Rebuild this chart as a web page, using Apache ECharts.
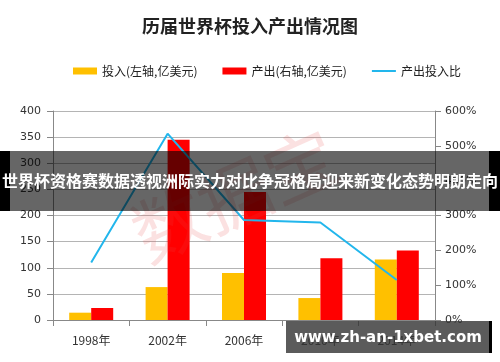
<!DOCTYPE html>
<html><head><meta charset="utf-8">
<script src="https://cdn.jsdelivr.net/npm/echarts@6/dist/echarts.min.js"></script>
<style>html,body{margin:0;padding:0;background:#fff}#c{width:500px;height:362px}</style>
</head><body><div id="c"></div>
<script>
const categories = ['1998年','2002年','2006年','2010年','2014年'];
const inputVals = [14, 63, 90, 42, 116];
const outputVals = [23, 345, 245, 118, 133];
const ratioVals = [165, 535, 287, 280, 115];
const leftTicks = [0, 400, 50];
const rightTicks = [0, 600, 100];

const chart = echarts.init(document.getElementById('c'));
const axisFont = {fontFamily:'DejaVu Sans', fontSize:11, color:'#333'};
chart.setOption({
  animation:false,
  title:{text:'历届世界杯投入产出情况图', left:'center', top:12,
    textStyle:{fontFamily:'Noto Sans CJK SC', fontSize:18, fontWeight:'bold', color:'#222'}},
  legend:{left:68, top:60, itemWidth:24, itemHeight:7, itemGap:25,
    textStyle:{fontFamily:'Noto Sans CJK SC', fontSize:12, color:'#222'},
    data:[{name:'投入(左轴,亿美元)', icon:'rect'},{name:'产出(右轴,亿美元)', icon:'rect'},
      {name:'产出投入比', icon:'path://M0,0L24,0L24,2L0,2Z'}]},
  grid:{left:53, right:65, top:111, bottom:42},
  xAxis:{type:'category', data:categories, boundaryGap:true,
    axisLine:{lineStyle:{color:'#888'}},
    axisTick:{show:true, alignWithLabel:false, length:6, lineStyle:{color:'#888'}},
    axisLabel:Object.assign({margin:14}, axisFont, {fontFamily:'Noto Sans CJK SC', fontSize:12})},
  yAxis:[
    {type:'value', min:leftTicks[0], max:leftTicks[1], interval:leftTicks[2],
      axisLine:{show:true, lineStyle:{color:'#888'}},
      axisTick:{show:true, length:6, lineStyle:{color:'#888'}},
      axisLabel:Object.assign({margin:12}, axisFont),
      splitLine:{lineStyle:{color:'#b4b4b4'}}},
    {type:'value', min:rightTicks[0], max:rightTicks[1], interval:rightTicks[2],
      axisLine:{show:true, lineStyle:{color:'#888'}},
      axisTick:{show:true, length:6, lineStyle:{color:'#888'}},
      axisLabel:Object.assign({margin:10, formatter:'{value}%'}, axisFont),
      splitLine:{show:false}}
  ],
  series:[
    {name:'投入(左轴,亿美元)', type:'bar', data:inputVals, barWidth:22, barGap:'0%',
      itemStyle:{color:'#FFC000'}},
    {name:'产出(右轴,亿美元)', type:'bar', data:outputVals, barWidth:22,
      itemStyle:{color:'#FF0000'}},
    {name:'产出投入比', type:'line', yAxisIndex:1, data:ratioVals, symbol:'none',
      lineStyle:{color:'#22B6EC', width:2}, itemStyle:{color:'#22B6EC'}}
  ],
  graphic:[
    {type:'text', x:235, y:195, rotation:0.42, z:50,
      style:{text:'数据宝', fontFamily:'Noto Sans CJK SC', fontSize:72, fontWeight:'normal',
        fill:'rgba(230,70,70,0.16)', align:'center', verticalAlign:'middle'}},
    {type:'rect', z:100, shape:{x:0, y:151, width:500, height:60}, style:{fill:'rgba(0,0,0,0.6)'}},
    {type:'rect', z:101, shape:{x:0, y:151, width:10, height:60}, style:{fill:'#000'}},
    {type:'rect', z:101, shape:{x:489, y:151, width:11, height:60}, style:{fill:'#000'}},
    {type:'text', z:102, x:250, y:181,
      style:{text:'世界杯资格赛数据透视洲际实力对比争冠格局迎来新变化态势明朗走向',
        fontFamily:'Noto Sans CJK SC', fontSize:16, fontWeight:'bold', fill:'#fff',
        align:'center', verticalAlign:'middle'}},
    {type:'rect', z:100, shape:{x:286, y:321, width:203, height:32}, style:{fill:'rgba(50,50,50,0.8)'}},
    {type:'rect', z:101, shape:{x:489, y:321, width:3, height:32}, style:{fill:'#000'}},
    {type:'text', z:102, x:388, y:338,
      style:{text:'www.zh-an-1xbet.com', fontFamily:'DejaVu Sans', fontSize:15, fontWeight:'bold',
        fill:'#fff', align:'center', verticalAlign:'middle'}}
  ]
});
</script></body></html>
